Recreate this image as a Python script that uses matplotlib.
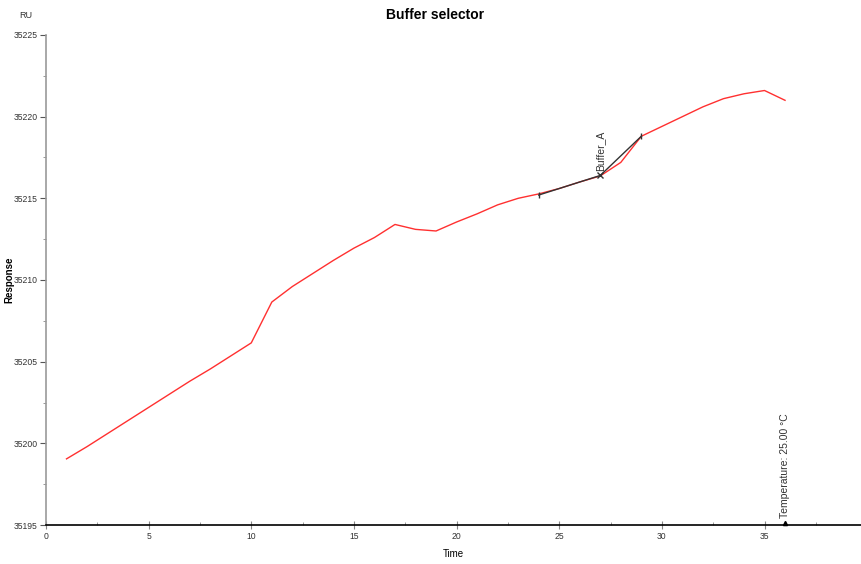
""" Buffer selector sensorgram: response over time with buffer event marks. """

import matplotlib.pyplot as plt
from matplotlib.ticker import MultipleLocator

# Sensorgram readings (Time, Response in RU)
time = [1, 2, 3, 4, 5, 6, 7, 8, 9, 10, 11, 12, 13, 14, 15, 16, 17, 18,
        19, 20, 21, 22, 23, 24, 25, 26, 27, 28, 29, 30, 31, 32, 33, 34, 35, 36]
response = [35199.05, 35199.8, 35200.6, 35201.4, 35202.2, 35203.0, 35203.8,
            35204.55, 35205.35, 35206.15, 35208.65, 35209.6, 35210.4, 35211.2,
            35211.95, 35212.6, 35213.4, 35213.1, 35213.0, 35213.55, 35214.05,
            35214.6, 35215.0, 35215.27, 35215.6, 35216.0, 35216.37, 35217.2,
            35218.8, 35219.4, 35220.0, 35220.6, 35221.1, 35221.4, 35221.6, 35221.0]

# Buffer_A fit segment
buffer_time = [24, 27, 29]
buffer_resp = [35215.2, 35216.4, 35218.8]
buffer_label = 'Buffer_A'

# Temperature event
temp_time = 36
temp_label = 'Temperature: 25.00 \u00b0C'

plt.rcParams['font.family'] = ['Liberation Sans', 'DejaVu Sans']


def main():
    fig = plt.figure(figsize=(8.61, 5.64), dpi=100)
    ax = fig.add_axes([0.0534, 0.0691, 0.9466, 0.8689])

    ax.plot(time, response, color='#ff3030', linewidth=1.0)

    # Buffer segment with start/end and centre markers
    ax.plot(buffer_time, buffer_resp, color='#333333', linewidth=1.0)
    ax.plot([buffer_time[0], buffer_time[2]], [buffer_resp[0], buffer_resp[2]],
            linestyle='none', marker='|', markersize=5, color='#333333')
    ax.plot(buffer_time[1], buffer_resp[1], linestyle='none', marker='x',
            markersize=4, color='#333333')
    ax.text(buffer_time[1], buffer_resp[1] + 0.3, buffer_label, rotation=90,
            ha='center', va='bottom', fontsize=7.5, color='#333333')

    # Temperature event at the bottom
    ax.plot(temp_time, 35195.15, marker='^', markersize=3, color='black',
            clip_on=False)
    ax.text(temp_time, 35195.4, temp_label, rotation=90, ha='center',
            va='bottom', fontsize=7.5, color='#333333')

    ax.set_xlim(0, 39.7)
    ax.set_ylim(35195, 35225)
    ax.xaxis.set_major_locator(MultipleLocator(5))
    ax.xaxis.set_minor_locator(MultipleLocator(2.5))
    ax.yaxis.set_major_locator(MultipleLocator(5))
    ax.yaxis.set_minor_locator(MultipleLocator(2.5))

    ax.spines['top'].set_visible(False)
    ax.spines['right'].set_visible(False)
    ax.spines['left'].set_color('#999999')
    ax.spines['left'].set_linewidth(1.2)
    ax.spines['bottom'].set_color('black')
    ax.spines['bottom'].set_linewidth(1.2)

    ax.tick_params(axis='both', labelsize=6.2, colors='#333333', pad=2)
    ax.tick_params(axis='x', which='major', direction='inout', length=6, width=0.8, color='#888888')
    ax.tick_params(axis='x', which='minor', direction='in', length=2, color='#888888')
    ax.tick_params(axis='y', which='major', direction='out', length=4, width=0.8, color='#555555')
    ax.tick_params(axis='y', which='minor', direction='out', length=2, color='#888888')

    ax.set_xlabel('Time', fontsize=7, labelpad=6)
    ax.set_ylabel('Response', fontsize=7, fontweight='bold')
    ax.yaxis.set_label_coords(-0.039, 0.5)
    fig.text(0.022, 0.972, 'RU', fontsize=6.5, ha='left', va='center', color='#333333')
    fig.suptitle('Buffer selector', fontsize=10, fontweight='bold', x=0.505, y=0.985)

    fig.savefig('out.png', dpi=100)


if __name__ == '__main__':
    main()
